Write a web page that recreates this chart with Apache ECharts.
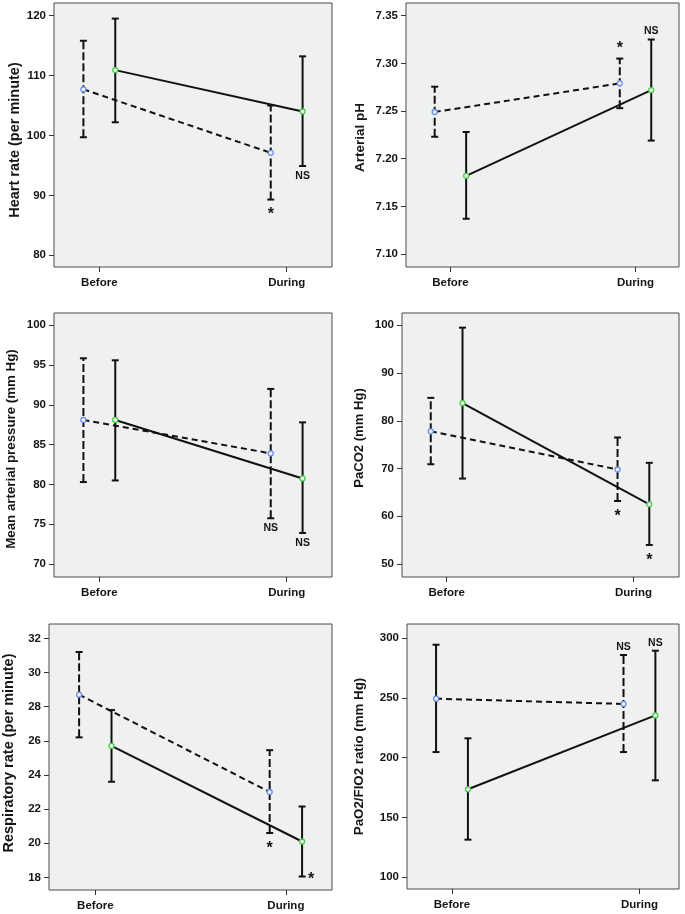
<!DOCTYPE html>
<html><head><meta charset="utf-8">
<script src="https://cdn.jsdelivr.net/npm/echarts@6/dist/echarts.min.js"></script>
<style>html,body{margin:0;padding:0;background:#fff}#c{width:685px;height:914px}</style>
</head><body><div id="c"></div><script>
const categories = ['Before', 'During'];

// Heart rate
const hrTicks = [80, 90, 100, 110, 120];
const hrDashedMean = [107.7, 97.1];
const hrDashedLow = [99.7, 89.3];
const hrDashedHigh = [115.8, 105.0];
const hrSolidMean = [110.9, 104.0];
const hrSolidLow = [102.2, 94.9];
const hrSolidHigh = [119.5, 113.2];
const hrNotes = [['dashed', 1, '*', 'below'], ['solid', 1, 'NS', 'below']];

// Arterial pH
const phTicks = [7.10, 7.15, 7.20, 7.25, 7.30, 7.35];
const phDashedMean = [7.249, 7.279];
const phDashedLow = [7.223, 7.253];
const phDashedHigh = [7.2755, 7.305];
const phSolidMean = [7.182, 7.272];
const phSolidLow = [7.137, 7.219];
const phSolidHigh = [7.228, 7.325];
const phNotes = [['dashed', 1, '*', 'above'], ['solid', 1, 'NS', 'above']];

// Mean arterial pressure
const mapTicks = [70, 75, 80, 85, 90, 95, 100];
const mapDashedMean = [88.1, 83.9];
const mapDashedLow = [80.3, 75.75];
const mapDashedHigh = [95.85, 92.0];
const mapSolidMean = [88.1, 80.75];
const mapSolidLow = [80.5, 73.9];
const mapSolidHigh = [95.6, 87.8];
const mapNotes = [['dashed', 1, 'NS', 'below'], ['solid', 1, 'NS', 'below']];

// PaCO2
const co2Ticks = [50, 60, 70, 80, 90, 100];
const co2DashedMean = [77.8, 69.8];
const co2DashedLow = [70.9, 63.2];
const co2DashedHigh = [84.8, 76.5];
const co2SolidMean = [83.7, 62.5];
const co2SolidLow = [67.9, 54.0];
const co2SolidHigh = [99.5, 71.2];
const co2Notes = [['dashed', 1, '*', 'below'], ['solid', 1, '*', 'below']];

// Respiratory rate
const rrTicks = [18, 20, 22, 24, 26, 28, 30, 32];
const rrDashedMean = [28.7, 23.0];
const rrDashedLow = [26.2, 20.6];
const rrDashedHigh = [31.2, 25.45];
const rrSolidMean = [25.7, 20.1];
const rrSolidLow = [23.6, 18.05];
const rrSolidHigh = [27.8, 22.15];
const rrNotes = [['dashed', 1, '*', 'below'], ['solid', 1, '*', 'right']];

// PaO2/FIO2
const pfTicks = [100, 150, 200, 250, 300];
const pfDashedMean = [249.4, 245.0];
const pfDashedLow = [204.7, 204.7];
const pfDashedHigh = [294.6, 286.0];
const pfSolidMean = [173.5, 235.4];
const pfSolidLow = [131.3, 181.0];
const pfSolidHigh = [216.2, 289.6];
const pfNotes = [['dashed', 1, 'NS', 'above'], ['solid', 1, 'NS', 'above']];

const FONT = 'Liberation Sans, Arial, sans-serif';
const BG = '#eef1ef';
const DODGE = 0.085;
const BLUE = '#6f8fe6';
const GREEN = '#4cc94c';

const panels = [
  {name: 'Heart rate (per minute)', ticks: hrTicks, d: [hrDashedMean, hrDashedLow, hrDashedHigh], s: [hrSolidMean, hrSolidLow, hrSolidHigh], notes: hrNotes,
   grid: {left: 54, top: 3, width: 278, height: 264}, ymin: 78.05, ymax: 122.1, xmin: -0.242, xmax: 1.242, nameGap: 30, nameSize: 14.5, namePad: [0, 10, 0, 0], dec: 0},
  {name: 'Arterial pH', ticks: phTicks, d: [phDashedMean, phDashedLow, phDashedHigh], s: [phSolidMean, phSolidLow, phSolidHigh], notes: phNotes,
   grid: {left: 406, top: 3, width: 273, height: 264}, ymin: 7.0864, ymax: 7.3633, xmin: -0.24, xmax: 1.235, nameGap: 39, nameSize: 13.5, namePad: [0, 5, 0, 0], dec: 2},
  {name: 'Mean arterial pressure (mm Hg)', ticks: mapTicks, d: [mapDashedMean, mapDashedLow, mapDashedHigh], s: [mapSolidMean, mapSolidLow, mapSolidHigh], notes: mapNotes,
   grid: {left: 54, top: 313, width: 278, height: 264}, ymin: 68.37, ymax: 101.54, xmin: -0.242, xmax: 1.242, nameGap: 36, nameSize: 13.3, namePad: [0, 8, 0, 0], dec: 0},
  {name: 'PaCO2 (mm Hg)', ticks: co2Ticks, d: [co2DashedMean, co2DashedLow, co2DashedHigh], s: [co2SolidMean, co2SolidLow, co2SolidHigh], notes: co2Notes,
   grid: {left: 402, top: 313, width: 277, height: 264}, ymin: 47.29, ymax: 102.57, xmin: -0.239, xmax: 1.244, nameGap: 36, nameSize: 13.1, namePad: [0, 0, 0, 14], dec: 0},
  {name: 'Respiratory rate (per minute)', ticks: rrTicks, d: [rrDashedMean, rrDashedLow, rrDashedHigh], s: [rrSolidMean, rrSolidLow, rrSolidHigh], notes: rrNotes,
   grid: {left: 47, top: 624, width: 285, height: 266}, ymin: 17.26, ymax: 32.84, xmin: -0.243, xmax: 1.242, nameGap: 33, nameSize: 14.5, namePad: [0, 0, 0, 8], dec: 0},
  {name: 'PaO2/FIO2 ratio (mm Hg)', ticks: pfTicks, d: [pfDashedMean, pfDashedLow, pfDashedHigh], s: [pfSolidMean, pfSolidLow, pfSolidHigh], notes: pfNotes,
   grid: {left: 407, top: 624, width: 272, height: 265}, ymin: 89.96, ymax: 311.97, xmin: -0.24, xmax: 1.211, nameGap: 41, nameSize: 13.3, namePad: [0, 0, 0, 0], dec: 0, solidDashedBarAt: [0]}
];

const grids = [], xAxes = [], yAxes = [], series = [];
const txt = {color: '#151515', fontWeight: 'bold', fontFamily: FONT, fontSize: 11.5};

panels.forEach((p, k) => {
  grids.push(Object.assign({show: true, backgroundColor: BG, borderColor: '#4a4a4a', borderWidth: 1, containLabel: false}, p.grid));
  xAxes.push({type: 'value', gridIndex: k, min: p.xmin, max: p.xmax,
    axisLine: {show: false, onZero: false}, splitLine: {show: false},
    axisTick: {show: true, length: 5, customValues: [0, 1], lineStyle: {color: '#333', width: 1}},
    axisLabel: Object.assign({customValues: [0, 1], margin: 10, formatter: v => categories[Math.round(v)]}, txt)});
  yAxes.push({type: 'value', gridIndex: k, min: p.ymin, max: p.ymax,
    name: p.name, nameLocation: 'middle', nameGap: p.nameGap,
    nameTextStyle: {color: '#151515', fontWeight: 'bold', fontFamily: FONT, fontSize: p.nameSize, padding: p.namePad},
    axisLine: {show: false, onZero: false}, splitLine: {show: false},
    axisTick: {show: true, length: 5, customValues: p.ticks, lineStyle: {color: '#333', width: 1}},
    axisLabel: Object.assign({customValues: p.ticks, margin: 8, formatter: v => Number(v).toFixed(p.dec)}, txt)});

  const groups = [p.d, p.s];
  const bars = [];
  groups.forEach((g, gi) => {
    const off = gi === 0 ? -DODGE : DODGE;
    categories.forEach((c, i) => {
      const forceSolid = (gi === 0 && p.solidDashedBarAt && p.solidDashedBarAt.indexOf(i) >= 0) ? 1 : 0;
      bars.push([i + off, g[1][i], g[2][i], gi, forceSolid]);
    });
  });
  series.push({type: 'custom', xAxisIndex: k, yAxisIndex: k, z: 2, silent: true, data: bars,
    renderItem: (params, api) => {
      const x = api.value(0), lo = api.value(1), hi = api.value(2), gi = api.value(3), fs = api.value(4);
      const a = api.coord([x, lo]), b = api.coord([x, hi]);
      const dash = (gi === 0 && !fs) ? [8, 3] : null;
      const st = {stroke: '#111', lineWidth: 2, lineDash: dash};
      const cs = {stroke: '#111', lineWidth: 2};
      const w = 3.5;
      return {type: 'group', children: [
        {type: 'line', shape: {x1: a[0], y1: a[1], x2: b[0], y2: b[1]}, style: st},
        {type: 'line', shape: {x1: a[0] - w, y1: a[1], x2: a[0] + w, y2: a[1]}, style: cs},
        {type: 'line', shape: {x1: b[0] - w, y1: b[1], x2: b[0] + w, y2: b[1]}, style: cs}
      ]};
    }});

  groups.forEach((g, gi) => {
    const off = gi === 0 ? -DODGE : DODGE;
    series.push({type: 'line', xAxisIndex: k, yAxisIndex: k, z: 3, silent: true,
      data: categories.map((c, i) => [i + off, g[0][i]]),
      symbol: 'circle', symbolSize: 5, showSymbol: true,
      itemStyle: {color: BG, borderColor: gi === 0 ? BLUE : GREEN, borderWidth: 1.3},
      lineStyle: {color: '#111', width: 2, type: gi === 0 ? [6, 4] : 'solid'}
    });
  });

  const notes = p.notes;
  series.push({type: 'custom', xAxisIndex: k, yAxisIndex: k, z: 4, silent: true,
    data: notes.map(n => {
      const gi = n[0] === 'dashed' ? 0 : 1;
      const g = groups[gi];
      const i = n[1];
      const end = n[3] === 'above' ? g[2][i] : g[1][i];
      return [i + (gi === 0 ? -DODGE : DODGE), end];
    }),
    renderItem: (params, api) => {
      const n = notes[params.dataIndex];
      const pt = api.coord([api.value(0), api.value(1)]);
      const star = n[2] === '*';
      let x = pt[0], y = pt[1];
      if (n[3] === 'below') y += star ? 15.5 : 10;
      else if (n[3] === 'above') y -= star ? 9.5 : 8;
      else { x += 9; y += 3.5; }
      return {type: 'text', x: x, y: y, style: {text: n[2], fill: '#151515', fontWeight: 'bold', fontFamily: FONT,
        fontSize: star ? 16 : 10.5, align: 'center', verticalAlign: 'middle'}};
    }});
});

const chart = echarts.init(document.getElementById('c'), null, {renderer: 'canvas'});
chart.setOption({animation: false, backgroundColor: '#fff', grid: grids, xAxis: xAxes, yAxis: yAxes, series: series});
</script></body></html>
